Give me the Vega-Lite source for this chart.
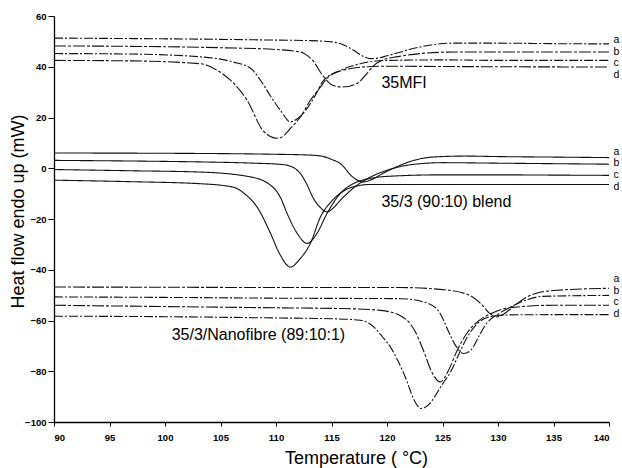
{
  "$schema": "https://vega.github.io/schema/vega-lite/v6.json",
  "width": 555,
  "height": 406,
  "autosize": {"type": "none"},
  "padding": {"left": 54, "top": 16, "right": 13, "bottom": 46},
  "background": "white",
  "config": {
    "view": {"stroke": null},
    "font": "Liberation Sans",
    "axis": {"grid": false, "domainColor": "#000", "domainWidth": 1.3, "tickColor": "#000", "tickWidth": 1, "labelColor": "#000", "titleColor": "#000", "labelFont": "Liberation Sans", "labelFontWeight": "bold", "labelFontSize": 9.5, "titleFont": "Liberation Sans", "titleFontWeight": "normal", "titleFontSize": 18}
  },
  "datasets": {
    "curves": [
      {"c":"1a","T":90,"v":51.3},{"c":"1a","T":100,"v":51.0},{"c":"1a","T":105,"v":50.8},{"c":"1a","T":110,"v":50.5},{"c":"1a","T":113,"v":50.3},{"c":"1a","T":115,"v":49.8},{"c":"1a","T":116,"v":48.8},{"c":"1a","T":117,"v":46.5},{"c":"1a","T":117.8,"v":44.2},{"c":"1a","T":118.5,"v":43.2},{"c":"1a","T":119.2,"v":43.4},{"c":"1a","T":120,"v":44.3},{"c":"1a","T":121,"v":45.5},{"c":"1a","T":122,"v":46.8},{"c":"1a","T":123,"v":47.8},{"c":"1a","T":124,"v":48.6},{"c":"1a","T":126,"v":49.3},{"c":"1a","T":130,"v":49.3},{"c":"1a","T":135,"v":49.1},{"c":"1a","T":140,"v":49.0},
      {"c":"1b","T":90,"v":48.2},{"c":"1b","T":100,"v":47.9},{"c":"1b","T":105,"v":47.5},{"c":"1b","T":110,"v":46.8},{"c":"1b","T":112.2,"v":45.8},{"c":"1b","T":112.8,"v":44.5},{"c":"1b","T":113.3,"v":42.5},{"c":"1b","T":114.2,"v":36.6},{"c":"1b","T":115.1,"v":32.7},{"c":"1b","T":116,"v":32},{"c":"1b","T":117.3,"v":33.4},{"c":"1b","T":118.2,"v":37.4},{"c":"1b","T":118.7,"v":40},{"c":"1b","T":119.5,"v":42.5},{"c":"1b","T":121,"v":44},{"c":"1b","T":123,"v":45.2},{"c":"1b","T":126,"v":45.8},{"c":"1b","T":130,"v":45.8},{"c":"1b","T":135,"v":45.8},{"c":"1b","T":140,"v":45.8},
      {"c":"1c","T":90,"v":45.2},{"c":"1c","T":97,"v":45},{"c":"1c","T":103.2,"v":43.9},{"c":"1c","T":106.1,"v":41.9},{"c":"1c","T":107.7,"v":39.4},{"c":"1c","T":108.6,"v":34.7},{"c":"1c","T":109.5,"v":28.5},{"c":"1c","T":110.4,"v":22.8},{"c":"1c","T":111.3,"v":18.3},{"c":"1c","T":112.2,"v":20.5},{"c":"1c","T":113.1,"v":25.5},{"c":"1c","T":113.7,"v":30},{"c":"1c","T":114.2,"v":34.2},{"c":"1c","T":115.8,"v":38.6},{"c":"1c","T":117.6,"v":41.2},{"c":"1c","T":120,"v":42.5},{"c":"1c","T":125,"v":42.7},{"c":"1c","T":130,"v":42.5},{"c":"1c","T":135,"v":42.5},{"c":"1c","T":140,"v":42.5},
      {"c":"1d","T":90,"v":42.5},{"c":"1d","T":97,"v":42.3},{"c":"1d","T":103.2,"v":41.2},{"c":"1d","T":104.7,"v":38.6},{"c":"1d","T":105.9,"v":34.7},{"c":"1d","T":107.4,"v":26.8},{"c":"1d","T":108.8,"v":15},{"c":"1d","T":109.5,"v":12.5},{"c":"1d","T":110.1,"v":11.8},{"c":"1d","T":110.7,"v":12.8},{"c":"1d","T":111.3,"v":15.7},{"c":"1d","T":112.2,"v":20.2},{"c":"1d","T":113.1,"v":26.8},{"c":"1d","T":114,"v":32},{"c":"1d","T":114.6,"v":35.5},{"c":"1d","T":116,"v":38.6},{"c":"1d","T":118.2,"v":40},{"c":"1d","T":120,"v":40.2},{"c":"1d","T":125,"v":40.1},{"c":"1d","T":130,"v":40},{"c":"1d","T":140,"v":39.9},
      {"c":"2a","T":90,"v":6.0},{"c":"2a","T":100,"v":5.9},{"c":"2a","T":110,"v":5.5},{"c":"2a","T":113,"v":5.2},{"c":"2a","T":114.2,"v":4.7},{"c":"2a","T":115,"v":3.5},{"c":"2a","T":115.8,"v":1.8},{"c":"2a","T":116.9,"v":-3.4},{"c":"2a","T":117.8,"v":-5.4},{"c":"2a","T":118.6,"v":-4.5},{"c":"2a","T":119.6,"v":-2.1},{"c":"2a","T":121.2,"v":1.2},{"c":"2a","T":122.5,"v":3.2},{"c":"2a","T":124.1,"v":4.4},{"c":"2a","T":127,"v":4.8},{"c":"2a","T":130,"v":4.6},{"c":"2a","T":135,"v":4.4},{"c":"2a","T":140,"v":4.2},
      {"c":"2b","T":90,"v":3.1},{"c":"2b","T":100,"v":2.7},{"c":"2b","T":103.2,"v":2.5},{"c":"2b","T":108,"v":2.0},{"c":"2b","T":110.5,"v":1.5},{"c":"2b","T":111.3,"v":0.8},{"c":"2b","T":112.2,"v":-2.1},{"c":"2b","T":112.8,"v":-6.5},{"c":"2b","T":113.3,"v":-11.3},{"c":"2b","T":114,"v":-15.5},{"c":"2b","T":114.6,"v":-17.2},{"c":"2b","T":115.2,"v":-15.5},{"c":"2b","T":115.8,"v":-12.6},{"c":"2b","T":117.3,"v":-6.7},{"c":"2b","T":118.5,"v":-3.5},{"c":"2b","T":120,"v":-0.8},{"c":"2b","T":122,"v":1.3},{"c":"2b","T":125,"v":2.2},{"c":"2b","T":130,"v":2.0},{"c":"2b","T":135,"v":1.8},{"c":"2b","T":140,"v":1.6},
      {"c":"2c","T":90,"v":-0.5},{"c":"2c","T":97,"v":-1.0},{"c":"2c","T":103.2,"v":-1.5},{"c":"2c","T":107.7,"v":-3.4},{"c":"2c","T":109.7,"v":-7.4},{"c":"2c","T":110.4,"v":-11.5},{"c":"2c","T":111,"v":-17.8},{"c":"2c","T":111.9,"v":-25.6},{"c":"2c","T":112.8,"v":-29.6},{"c":"2c","T":113.7,"v":-25.6},{"c":"2c","T":114.6,"v":-17.8},{"c":"2c","T":115.8,"v":-9.9},{"c":"2c","T":117,"v":-6.0},{"c":"2c","T":118.5,"v":-4.0},{"c":"2c","T":120,"v":-3.2},{"c":"2c","T":125,"v":-2.6},{"c":"2c","T":130,"v":-2.6},{"c":"2c","T":135,"v":-2.7},{"c":"2c","T":140,"v":-2.8},
      {"c":"2d","T":90,"v":-4.7},{"c":"2d","T":97,"v":-5.3},{"c":"2d","T":103.2,"v":-6.1},{"c":"2d","T":106.1,"v":-7.4},{"c":"2d","T":107.3,"v":-10.5},{"c":"2d","T":108.3,"v":-15.3},{"c":"2d","T":109.5,"v":-25.6},{"c":"2d","T":110.3,"v":-33.5},{"c":"2d","T":111.3,"v":-38.9},{"c":"2d","T":112.2,"v":-35.5},{"c":"2d","T":113.1,"v":-29.6},{"c":"2d","T":114,"v":-19.2},{"c":"2d","T":115.1,"v":-12.6},{"c":"2d","T":116.9,"v":-7.4},{"c":"2d","T":118.5,"v":-6.4},{"c":"2d","T":125,"v":-6.4},{"c":"2d","T":130,"v":-6.4},{"c":"2d","T":140,"v":-6.4},
      {"c":"3a","T":90,"v":-46.8},{"c":"3a","T":100,"v":-46.9},{"c":"3a","T":110,"v":-47.0},{"c":"3a","T":121.2,"v":-47.0},{"c":"3a","T":125.6,"v":-48.1},{"c":"3a","T":127.7,"v":-50.7},{"c":"3a","T":128.6,"v":-54},{"c":"3a","T":129.2,"v":-57},{"c":"3a","T":129.9,"v":-58.6},{"c":"3a","T":130.5,"v":-57.5},{"c":"3a","T":131.5,"v":-54},{"c":"3a","T":132.5,"v":-51},{"c":"3a","T":134,"v":-48.7},{"c":"3a","T":135.3,"v":-48.1},{"c":"3a","T":140,"v":-47.3},
      {"c":"3b","T":90,"v":-50.7},{"c":"3b","T":100,"v":-50.9},{"c":"3b","T":110,"v":-51.2},{"c":"3b","T":121.2,"v":-51.4},{"c":"3b","T":123.3,"v":-52.7},{"c":"3b","T":124.6,"v":-56},{"c":"3b","T":125.1,"v":-59.9},{"c":"3b","T":125.5,"v":-63.9},{"c":"3b","T":126.2,"v":-70},{"c":"3b","T":126.9,"v":-73},{"c":"3b","T":127.6,"v":-71.5},{"c":"3b","T":128.3,"v":-66},{"c":"3b","T":129,"v":-61},{"c":"3b","T":130,"v":-57.5},{"c":"3b","T":131,"v":-55},{"c":"3b","T":132.5,"v":-52},{"c":"3b","T":134,"v":-50.5},{"c":"3b","T":140,"v":-50.1},
      {"c":"3c","T":90,"v":-54},{"c":"3c","T":100,"v":-54.5},{"c":"3c","T":110,"v":-55},{"c":"3c","T":116,"v":-55.3},{"c":"3c","T":119.4,"v":-56},{"c":"3c","T":121.4,"v":-58.6},{"c":"3c","T":121.8,"v":-59.9},{"c":"3c","T":122.5,"v":-64},{"c":"3c","T":123.3,"v":-72},{"c":"3c","T":124,"v":-80},{"c":"3c","T":124.8,"v":-84.2},{"c":"3c","T":125.5,"v":-80},{"c":"3c","T":126.3,"v":-72},{"c":"3c","T":127.2,"v":-65},{"c":"3c","T":128.3,"v":-60},{"c":"3c","T":129.5,"v":-57},{"c":"3c","T":131,"v":-55},{"c":"3c","T":135,"v":-54},{"c":"3c","T":140,"v":-54},
      {"c":"3d","T":90,"v":-58.3},{"c":"3d","T":100,"v":-58.5},{"c":"3d","T":110,"v":-59},{"c":"3d","T":115,"v":-59.3},{"c":"3d","T":117.6,"v":-59.9},{"c":"3d","T":118.8,"v":-62.5},{"c":"3d","T":119.6,"v":-66.5},{"c":"3d","T":120.3,"v":-70.4},{"c":"3d","T":121,"v":-76},{"c":"3d","T":121.8,"v":-84},{"c":"3d","T":122.4,"v":-91},{"c":"3d","T":123.1,"v":-94.7},{"c":"3d","T":123.8,"v":-93},{"c":"3d","T":124.3,"v":-90},{"c":"3d","T":125,"v":-85},{"c":"3d","T":125.7,"v":-80.5},{"c":"3d","T":126.5,"v":-73},{"c":"3d","T":127.3,"v":-66},{"c":"3d","T":128.2,"v":-61},{"c":"3d","T":129.3,"v":-58.5},{"c":"3d","T":131,"v":-57.8},{"c":"3d","T":135,"v":-57.7},{"c":"3d","T":140,"v":-57.7}
    ],
    "labels": [
      {"t":"a","T":140.4,"v":50.6},{"t":"b","T":140.4,"v":46.0},{"t":"c","T":140.4,"v":41.4},{"t":"d","T":140.4,"v":36.8},
      {"t":"a","T":140.4,"v":6.6},{"t":"b","T":140.4,"v":2.0},{"t":"c","T":140.4,"v":-2.6},{"t":"d","T":140.4,"v":-7.2},
      {"t":"a","T":140.4,"v":-43.6},{"t":"b","T":140.4,"v":-48.2},{"t":"c","T":140.4,"v":-52.8},{"t":"d","T":140.4,"v":-57.4}
    ],
    "notes": [
      {"t":"35MFI","T":119.5,"v":33.5},
      {"t":"35/3 (90:10) blend","T":119.5,"v":-13.3},
      {"t":"35/3/Nanofibre (89:10:1)","T":100.6,"v":-65.8}
    ]
  },
  "layer": [
    {
      "data": {"name": "curves"},
      "mark": {"type": "line", "color": "#111", "strokeWidth": 1.1, "interpolate": "monotone"},
      "encoding": {
        "x": {"field": "T", "type": "quantitative", "scale": {"domain": [90, 140], "nice": false, "zero": false},
              "axis": {"values": [90,95,100,105,110,115,120,125,130,135,140], "tickSize": 4, "labelPadding": 6, "title": "Temperature ( °C)", "titleX": 302, "titleY": 27, "titleBaseline": "top", "titleAlign": "center"}},
        "y": {"field": "v", "type": "quantitative", "scale": {"domain": [-100, 60], "nice": false, "zero": false},
              "axis": {"values": [-100,-80,-60,-40,-20,0,20,40,60], "tickSize": 6, "labelPadding": 2, "title": "Heat flow endo up (mW)", "titleX": -36, "titleY": 195, "titleAngle": 270, "titleBaseline": "middle", "titleAlign": "center"}},
        "detail": {"field": "c"},
        "strokeDash": {"field": "c", "type": "nominal", "legend": null,
          "scale": {"domain": ["1a","1b","1c","1d","2a","2b","2c","2d","3a","3b","3c","3d"],
                    "range": [[9,2,2,2],[12,2,3,2],[9,2,2,2],[12,2,3,2],[1,0],[1,0],[1,0],[1,0],[12,2,3,2],[9,2,2,2],[12,2,3,2],[9,2,2,2]]}}
      }
    },
    {
      "data": {"name": "labels"},
      "mark": {"type": "text", "align": "left", "baseline": "middle", "fontSize": 10.5, "font": "Liberation Sans", "color": "#000"},
      "encoding": {
        "x": {"field": "T", "type": "quantitative"},
        "y": {"field": "v", "type": "quantitative"},
        "text": {"field": "t"}
      }
    },
    {
      "data": {"name": "notes"},
      "mark": {"type": "text", "align": "left", "baseline": "middle", "fontSize": 16, "font": "Liberation Sans", "color": "#000"},
      "encoding": {
        "x": {"field": "T", "type": "quantitative"},
        "y": {"field": "v", "type": "quantitative"},
        "text": {"field": "t"}
      }
    }
  ]
}
